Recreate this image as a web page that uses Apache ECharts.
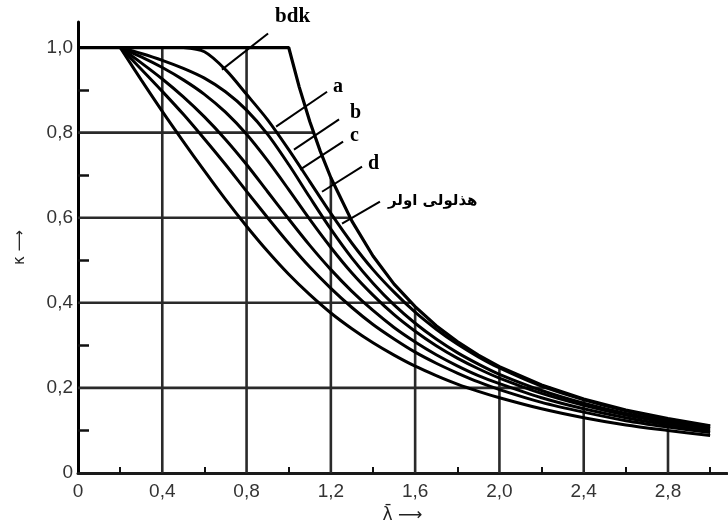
<!DOCTYPE html>
<html>
<head>
<meta charset="utf-8">
<script src="https://cdn.jsdelivr.net/npm/echarts@6/dist/echarts.min.js"></script>
<style>
html, body { margin: 0; padding: 0; background: #fff; }
#chart { width: 728px; height: 532px; }
</style>
</head>
<body>
<div id="chart"></div>
<script>
// slenderness values shared by the fan of buckling curves
const fanLambda = [0.2, 0.3, 0.4, 0.5, 0.6, 0.7, 0.8, 0.9, 1.0, 1.1, 1.2, 1.3, 1.4, 1.5, 1.6, 1.7, 1.8, 1.9, 2.0, 2.2, 2.4, 2.6, 2.8, 3.0];
const curveA0 = [1.0, 0.986, 0.970, 0.951, 0.928, 0.896, 0.853, 0.796, 0.725, 0.648, 0.573, 0.505, 0.446, 0.395, 0.352, 0.315, 0.283, 0.256, 0.232, 0.194, 0.164, 0.140, 0.122, 0.106];
const curveA  = [1.0, 0.978, 0.953, 0.924, 0.890, 0.848, 0.796, 0.734, 0.666, 0.596, 0.530, 0.470, 0.418, 0.372, 0.333, 0.299, 0.270, 0.245, 0.223, 0.187, 0.159, 0.136, 0.118, 0.104];
const curveB  = [1.0, 0.964, 0.926, 0.884, 0.837, 0.784, 0.725, 0.661, 0.597, 0.535, 0.478, 0.427, 0.382, 0.342, 0.308, 0.278, 0.252, 0.229, 0.210, 0.177, 0.151, 0.130, 0.113, 0.099];
const curveC  = [1.0, 0.949, 0.897, 0.843, 0.785, 0.725, 0.662, 0.600, 0.540, 0.484, 0.434, 0.389, 0.349, 0.315, 0.284, 0.258, 0.235, 0.214, 0.196, 0.166, 0.143, 0.123, 0.108, 0.095];
const curveD  = [1.0, 0.924, 0.850, 0.779, 0.710, 0.643, 0.580, 0.521, 0.467, 0.419, 0.376, 0.339, 0.306, 0.277, 0.251, 0.229, 0.209, 0.192, 0.177, 0.151, 0.130, 0.113, 0.100, 0.088];

// Euler hyperbola, capped at 1.0
const eulerLambda = [0, 1.0, 1.05, 1.1, 1.15, 1.2, 1.3, 1.4, 1.5, 1.6, 1.7, 1.8, 1.9, 2.0, 2.2, 2.4, 2.6, 2.8, 3.0];
const eulerValues = [1.0, 1.0, 0.907, 0.826, 0.756, 0.694, 0.592, 0.510, 0.444, 0.391, 0.346, 0.309, 0.277, 0.250, 0.207, 0.174, 0.148, 0.128, 0.111];

// bdk curve
const bdkLambda = [0.5, 0.6, 0.7, 0.8, 0.9, 1.0, 1.1, 1.2, 1.3, 1.4, 1.5, 1.6, 1.7, 1.8, 1.9, 2.0, 2.2, 2.4, 2.6, 2.8, 3.0];
const bdkValues = [1.0, 0.99, 0.948, 0.89, 0.83, 0.76, 0.685, 0.61, 0.54, 0.478, 0.425, 0.378, 0.338, 0.303, 0.273, 0.247, 0.204, 0.172, 0.146, 0.126, 0.11];

// grid lines and ticks
const gridX = [0.4, 0.8, 1.2, 1.6, 2.0, 2.4, 2.8];
const gridY = [0.2, 0.4, 0.6, 0.8];
const xLabelValues = [0, 0.4, 0.8, 1.2, 1.6, 2.0, 2.4, 2.8];
const yLabelValues = [0, 0.2, 0.4, 0.6, 0.8, 1.0];
const xTickValues = [0.2, 0.6, 1.0, 1.4, 1.8, 2.2, 2.6, 3.0];
const yTickValues = [0.1, 0.3, 0.5, 0.7, 0.9];

// curve labels with leader lines (data coordinates)
const notes = [
    { text: 'bdk', from: [0.902, 1.033], to: [0.683, 0.948], at: [0.935, 1.073], size: 21, family: '"Liberation Serif", serif' },
    { text: 'a', from: [1.182, 0.896], to: [0.940, 0.814], at: [1.210, 0.908], size: 20, family: '"Liberation Serif", serif' },
    { text: 'b', from: [1.239, 0.831], to: [1.025, 0.760], at: [1.291, 0.847], size: 20, family: '"Liberation Serif", serif' },
    { text: 'c', from: [1.258, 0.779], to: [1.054, 0.713], at: [1.291, 0.793], size: 20, family: '"Liberation Serif", serif' },
    { text: 'd', from: [1.348, 0.720], to: [1.158, 0.661], at: [1.376, 0.727], size: 20, family: '"Liberation Serif", serif' },
    { text: 'هذلولی اولر', from: [1.433, 0.638], to: [1.253, 0.586], at: [1.471, 0.638], size: 15, family: '"DejaVu Sans", sans-serif' }
];

function interp(xs, ys, x) {
    for (let i = 0; i < xs.length - 1; i++) {
        if (x >= xs[i] && x <= xs[i + 1]) {
            const t = (x - xs[i]) / (xs[i + 1] - xs[i]);
            return ys[i] + t * (ys[i + 1] - ys[i]);
        }
    }
    return ys[ys.length - 1];
}

// where the falling Euler curve reaches a given value
function crossing(xs, ys, y) {
    for (let i = 1; i < xs.length - 1; i++) {
        if (ys[i] >= y && ys[i + 1] <= y) {
            const t = (ys[i] - y) / (ys[i] - ys[i + 1]);
            return xs[i] + t * (xs[i + 1] - xs[i]);
        }
    }
    return xs[xs.length - 1];
}

const zip = (xs, ys) => xs.map((x, i) => [x, ys[i]]);
const fmt = v => v === 0 ? '0' : v.toFixed(1).replace('.', ',');

let series = [];

gridX.forEach(x => {
    series.push({
        type: 'line', silent: true, symbol: 'none', z: 1,
        lineStyle: { color: '#2a2a2a', width: 2.6 },
        data: [[x, 0], [x, interp(eulerLambda, eulerValues, x)]]
    });
});
gridY.forEach(y => {
    series.push({
        type: 'line', silent: true, symbol: 'none', z: 1,
        lineStyle: { color: '#2a2a2a', width: 2.6 },
        data: [[0, y], [crossing(eulerLambda, eulerValues, y), y]]
    });
});

[curveA0, curveA, curveB, curveC, curveD].forEach(c => {
    series.push({
        type: 'line', symbol: 'none', smooth: 0.3, z: 3,
        lineStyle: { color: '#000', width: 3 },
        data: zip(fanLambda, c)
    });
});

series.push({
    type: 'line', symbol: 'none', smooth: 0.3, z: 3,
    lineStyle: { color: '#000', width: 3 },
    data: zip(bdkLambda, bdkValues)
});
series.push({
    type: 'line', symbol: 'none', z: 3,
    lineStyle: { color: '#000', width: 3.2 },
    data: zip(eulerLambda, eulerValues)
});

notes.forEach(n => {
    series.push({
        type: 'line', symbol: 'none', silent: true, clip: false, z: 4,
        lineStyle: { color: '#000', width: 2 },
        data: [n.from, n.to]
    });
});

const axisFont = { fontFamily: '"Liberation Sans", Arial, sans-serif', fontSize: 19, color: '#333' };

const option = {
    backgroundColor: '#fff',
    animation: false,
    grid: { left: 78, right: 1, top: 22, bottom: 59 },
    xAxis: {
        type: 'value', min: 0, max: 3.08, interval: 0.4,
        name: 'λ̄ ⟶', nameLocation: 'middle', nameGap: 34,
        nameTextStyle: { fontFamily: '"DejaVu Sans", sans-serif', fontSize: 17, color: '#222' },
        axisLine: { show: true, lineStyle: { color: '#1a1a1a', width: 3 } },
        axisTick: { show: true, inside: true, length: 6, customValues: xTickValues, lineStyle: { color: '#111', width: 2 } },
        axisLabel: Object.assign({ margin: 9, customValues: xLabelValues, formatter: fmt }, axisFont),
        splitLine: { show: false }
    },
    yAxis: {
        type: 'value', min: 0, max: 1.06, interval: 0.2,
        name: 'κ ⟶', nameLocation: 'middle', nameGap: 50, nameRotate: 90,
        nameTextStyle: { fontFamily: '"DejaVu Sans", sans-serif', fontSize: 15, color: '#222' },
        axisLine: { show: true, lineStyle: { color: '#000', width: 3 } },
        axisTick: { show: true, inside: true, length: 11, customValues: yTickValues, lineStyle: { color: '#111', width: 2.5 } },
        axisLabel: Object.assign({ margin: 5, customValues: yLabelValues, formatter: fmt }, axisFont),
        splitLine: { show: false }
    },
    series: series
};

const myChart = echarts.init(document.getElementById('chart'));
myChart.setOption(option);

const texts = notes.map(n => {
    const p = myChart.convertToPixel({ gridIndex: 0 }, n.at);
    return {
        type: 'text', z: 10,
        style: {
            text: n.text, x: p[0], y: p[1],
            font: 'bold ' + n.size + 'px ' + n.family,
            fill: '#000', align: 'left', verticalAlign: 'middle'
        }
    };
});
myChart.setOption({ graphic: texts });
</script>
</body>
</html>
